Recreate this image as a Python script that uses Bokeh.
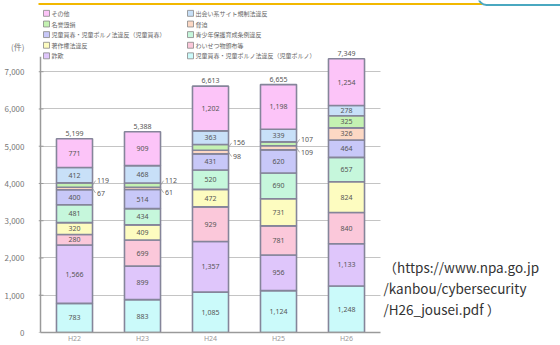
from bokeh.plotting import figure
from bokeh.models import (ColumnDataSource, Range1d, Label, BoxAnnotation,
                          FixedTicker, NumeralTickFormatter)
from bokeh.core.properties import value
from bokeh.embed import file_html
from bokeh.resources import INLINE

# ---------------- data ----------------
years = ["H22", "H23", "H24", "H25", "H26"]
categories = [
    "児童買春・児童ポルノ法違反（児童ポルノ）",
    "詐欺",
    "わいせつ物頒布等",
    "著作権法違反",
    "青少年保護育成条例違反",
    "児童買春・児童ポルノ法違反（児童買春）",
    "脅迫",
    "名誉毀損",
    "出会い系サイト規制法違反",
    "その他",
]
child_porn = [783, 883, 1085, 1124, 1248]
fraud = [1566, 899, 1357, 956, 1133]
obscene = [280, 699, 929, 781, 840]
copyright_ = [320, 409, 472, 731, 824]
youth = [481, 434, 520, 690, 657]
child_prost = [400, 514, 431, 620, 464]
threat = [67, 61, 98, 109, 326]
defamation = [119, 112, 156, 107, 325]
dating = [412, 468, 363, 339, 278]
other = [771, 909, 1202, 1198, 1254]
totals = [5199, 5388, 6613, 6655, 7349]
y_ticks = [0, 1000, 2000, 3000, 4000, 5000, 6000, 7000]
unit_label = "(件)"
source_lines = ["（https://www.npa.go.jp", "/kanbou/cybersecurity", "/H26_jousei.pdf ）"]

series = [child_porn, fraud, obscene, copyright_, youth, child_prost,
          threat, defamation, dating, other]
colors = ["#cbfafa", "#dfc6fb", "#fbc8da", "#fdfcc0", "#c6f7dc",
          "#c8c8f8", "#fcd8c4", "#c4f2b2", "#c8e0f8", "#fcc4f8"]

# ---------------- layout helpers ----------------
W, H = 560, 345
FRAME_L = 38              # left edge of the drawing frame (px)
AX_L, FB = 40, 336        # y-axis position / x-axis position (px)
PLOT_R, PLOT_T = 380, 57  # right / top of the chart area (px)
YMAX = 7400               # value at PLOT_T
N = len(years)
XPX = (PLOT_R - AX_L) / N
YPX = (FB - PLOT_T) / YMAX


def dx(px):
    return (px - AX_L) / XPX


def dy(py):
    return (FB - py) / YPX


p = figure(width=W, height=H, x_range=Range1d(dx(FRAME_L), dx(W)), y_range=Range1d(0, dy(0)),
           output_backend="svg", toolbar_location=None,
           min_border_left=FRAME_L, min_border_right=0, min_border_top=0,
           min_border_bottom=H - FB)
p.background_fill_color = "white"
p.border_fill_color = "white"
p.outline_line_color = None

xpos = [j + 0.5 for j in range(N)]
keys = ["s%d" % i for i in range(len(series))]
data = {"x": xpos}
for k, s in zip(keys, series):
    data[k] = s
src = ColumnDataSource(data)
p.vbar_stack(keys, x="x", width=0.53, source=src, fill_color=colors,
             line_color="#85859a", line_width=1.6)

# segment labels
in_x, in_y, in_t = [], [], []
sd_x, sd_y, sd_t, ld_x0, ld_y0 = [], [], [], [], []
for j in range(N):
    base = 0
    nsmall = 0
    for s in series:
        v = s[j]
        mid = base + v / 2
        if v >= 200:
            in_x.append(xpos[j]); in_y.append(mid); in_t.append(f"{v:,}")
        else:
            off = -120 if nsmall == 0 else 120
            sd_x.append(xpos[j] + 0.33); sd_y.append(mid + off); sd_t.append(f"{v:,}")
            ld_x0.append(xpos[j] + 0.265); ld_y0.append(mid)
            nsmall += 1
        base += v

p.segment(x0=ld_x0, y0=ld_y0, x1=[x - 0.02 for x in sd_x], y1=sd_y,
          line_color="#999", line_width=0.8)
p.text(x="x", y="y", text="t", source=ColumnDataSource(dict(x=in_x, y=in_y, t=in_t)),
       text_font=value("Noto Sans"), text_font_size="7px", text_color="#555",
       text_align="center", text_baseline="middle")
p.text(x="x", y="y", text="t", source=ColumnDataSource(dict(x=sd_x, y=sd_y, t=sd_t)),
       text_font=value("Noto Sans"), text_font_size="7px", text_color="#555",
       text_align="left", text_baseline="middle")
p.text(x=xpos, y=totals, text=[f"{t:,}" for t in totals], y_offset=-3,
       text_font=value("Noto Sans"), text_font_size="7px", text_color="#555",
       text_align="center", text_baseline="bottom")

# y axis: value ticks plus the unit label as the topmost tick label
unit_y = dy(47)
p.yaxis.ticker = FixedTicker(ticks=y_ticks + [unit_y])
p.yaxis.formatter = NumeralTickFormatter(format="0,0")
p.yaxis.major_label_overrides = {unit_y: unit_label}
p.yaxis.major_label_text_font_size = "8px"
p.yaxis.major_label_text_color = "#777"
p.yaxis.major_label_text_font = "Noto Sans CJK JP"
p.yaxis.major_label_standoff = 8
p.yaxis.axis_line_color = None
p.yaxis.major_tick_line_color = None
p.yaxis.minor_tick_line_color = None
# axis line and tick marks of the value scale
p.segment(x0=[0], y0=[0], x1=[0], y1=[YMAX], line_color="#9a9a9a", line_width=1.5)
p.segment(x0=[dx(AX_L - 2)] * len(y_ticks), y0=y_ticks, x1=[dx(AX_L + 3)] * len(y_ticks),
          y1=y_ticks, line_color="#9a9a9a", line_width=1)

p.xaxis.ticker = FixedTicker(ticks=xpos)
p.xaxis.major_label_overrides = {x: y for x, y in zip(xpos, years)}
p.xaxis.bounds = (0, N)
p.xaxis.major_label_text_font_size = "7px"
p.xaxis.major_label_text_color = "#999"
p.xaxis.major_label_text_font = "Noto Sans"
p.xaxis.major_tick_out = 0
p.xaxis.major_tick_in = 0
p.xaxis.minor_tick_line_color = None
p.xaxis.major_label_standoff = 1
p.xaxis.axis_line_color = "#9a9a9a"
p.xaxis.axis_line_width = 1.5
p.xgrid.grid_line_color = None

g = p.ygrid[0]
g.ticker = FixedTicker(ticks=y_ticks[1:])
if "cross_bounds" in g.properties():
    g.cross_bounds = (0, N)
    g.grid_line_color = "#c4c4c4"
else:
    g.grid_line_color = None
    p.segment(x0=0, x1=N, y0=y_ticks[1:], y1=y_ticks[1:], line_color="#c4c4c4",
              level="underlay")

# legend (two columns, reversed stack order read row-wise)
rows_y = [13, 23.8, 34.5, 45.3, 56]
cols_x = [43, 187]
for k, idx in enumerate(reversed(range(len(categories)))):
    r, c = k // 2, k % 2
    x0, yc = cols_x[c], rows_y[r]
    p.add_layout(BoxAnnotation(left=dx(x0), right=dx(x0 + 6), top=dy(yc - 3),
                               bottom=dy(yc + 3), fill_color=colors[idx], fill_alpha=1,
                               line_color="#888", line_alpha=1, line_width=0.8))
    p.add_layout(Label(x=dx(x0 + 8), y=dy(yc), text=categories[idx],
                       text_font="Noto Sans CJK JP", text_font_size="6px",
                       text_color="#666", text_baseline="middle"))

# header decorations
p.add_layout(BoxAnnotation(left=dx(0), right=dx(482), top=dy(2.5), bottom=dy(4.5),
                           fill_color="#f2b800", fill_alpha=1, line_color=None))
p.add_layout(BoxAnnotation(left=dx(478), right=dx(620), top=dy(-20), bottom=dy(4.5),
                           fill_color=None, fill_alpha=0, line_color="#4aa8c0",
                           line_alpha=1, line_width=2, border_radius=8))

# source text
for i, line in enumerate(source_lines):
    p.add_layout(Label(x=dx(383), y=dy(270 + 21 * i), text=line,
                       text_font="Noto Sans CJK JP", text_font_size="13.5px",
                       text_color="#333", text_baseline="middle"))

open("out.html", "w").write(file_html(p, INLINE))
